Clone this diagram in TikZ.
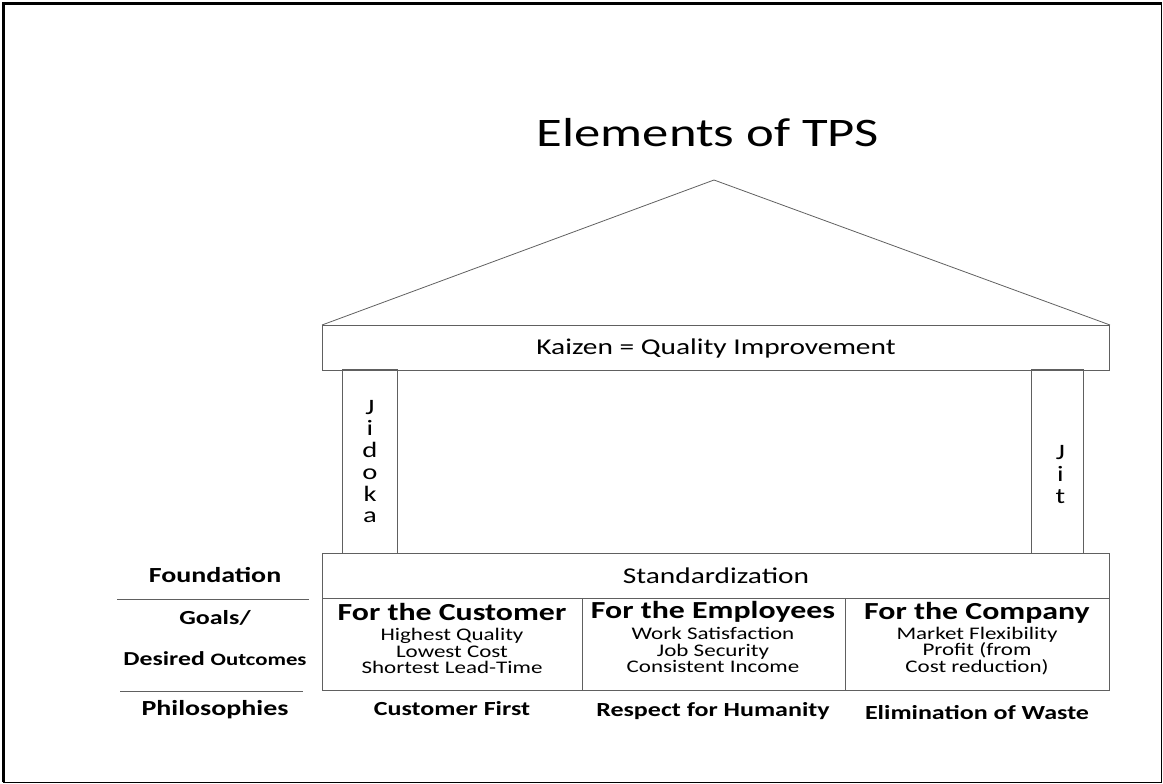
\documentclass[tikz,border=0pt]{standalone}
\usepackage{fontspec}
\setmainfont{Carlito}[FakeStretch=1.3]

\tikzset{
  block/.style={draw=edge, line width=1pt, inner sep=0pt, anchor=north west},
  bartext/.style={font=\fontsize{22.6}{26}\selectfont},
  goalhead/.style={font=\bfseries\fontsize{24.5}{28}\selectfont},
  goallist/.style={align=center, font=\fontsize{17.7}{16.5}\selectfont},
  sidelabel/.style={font=\bfseries\fontsize{21.5}{24}\selectfont},
  philo/.style={font=\bfseries\fontsize{20}{24}\selectfont},
  letters/.style={align=center, font=\fontsize{22}{21.7}\selectfont},
}

\begin{document}
\begin{tikzpicture}[x=1pt, y=-1pt]
\definecolor{edge}{HTML}{606060}
\useasboundingbox (0,0) rectangle (1163,784);
% frame
\draw[black, line width=1pt] (3,3) rectangle (1161.5,782);
\draw[black, line width=2.5pt] (3.5,782) -- (3.5,3.5) -- (1161.5,3.5);

% roof
\node[font=\fontsize{40.5}{44}\selectfont] (title) at (708,133) {Elements of TPS};
\coordinate (apex) at (714,180);
\node[block, bartext, minimum width=787pt, minimum height=45pt] (kaizen) at (322,325) {Kaizen = Quality Improvement};
\draw[edge, line width=0.8pt] (kaizen.north west) -- (apex) -- (kaizen.north east);

% pillars
\node[block, minimum width=55pt, minimum height=184pt] (jidoka) at (342,369) {};
\node[letters] (jidokatext) at (jidoka.center) {J\\i\\d\\o\\k\\a};
\node[block, minimum width=52pt, minimum height=184pt] (jit) at (1031,369) {};
\node[letters] (jittext) at ([xshift=3pt, yshift=-13pt]jit.center) {J\\i\\t};

% foundation
\node[block, bartext, minimum width=787pt, minimum height=45pt] (std) at (322,553) {Standardization};

% goals
\node[block, minimum width=260pt, minimum height=92pt] (customer) at (322,598) {};
\node[block, minimum width=263pt, minimum height=92pt] (employees) at (582,598) {};
\node[block, minimum width=264pt, minimum height=92pt] (company) at (845,598) {};
\node[goalhead] (customerhead) at (452,612) {For the Customer};
\node[goalhead] (employeeshead) at (713,612) {For the Employees};
\node[goalhead] (companyhead) at (977,613) {For the Company};
\node[goallist] (customerlist) at (452,651) {Highest Quality\\Lowest Cost\\Shortest Lead-Time};
\node[goallist] (employeeslist) at (713,650) {Work Satisfaction\\Job Security\\Consistent Income};
\node[goallist] (companylist) at (977,651) {Market Flexibility\\Profit (from\\Cost reduction)};

% left labels
\node[sidelabel] (foundation) at (215,575) {Foundation};
\draw[edge, line width=1pt] (117,599) -- (309,599);
\node[sidelabel, font=\bfseries\fontsize{20}{24}\selectfont] (goals) at (215,618) {Goals/};
\node[sidelabel, font=\bfseries\fontsize{19.8}{24}\selectfont] (desired) at (215,659) {Desired {\fontsize{17.5}{20}\selectfont Outcomes}};
\draw[edge, line width=1pt] (120,691) -- (303,691);
\node[sidelabel] (philosophies) at (215,710) {Philosophies};

% philosophies
\node[philo] (custfirst) at (452,709) {Customer First};
\node[philo] (respect) at (713,711) {Respect for Humanity};
\node[philo] (waste) at (977,713) {Elimination of Waste};
\end{tikzpicture}
\end{document}
